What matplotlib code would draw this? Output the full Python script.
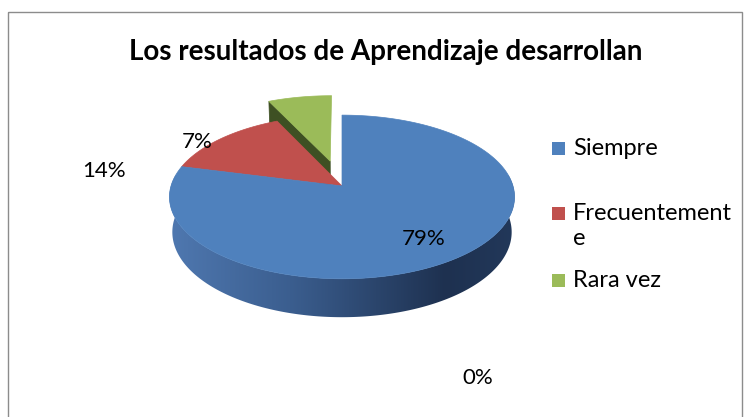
import numpy as np
import matplotlib
matplotlib.use("Agg")
import matplotlib.pyplot as plt
from matplotlib.patches import Polygon, Rectangle
from matplotlib.colors import LinearSegmentedColormap

title = "Los resultados de Aprendizaje desarrollan"
categories = ["Siempre", "Frecuentemente", "Rara vez"]
values = [79, 14, 7]
legend_labels = ["Siempre", "Frecuentement\ne", "Rara vez"]
pct_labels = ["79%", "14%", "7%", "0%"]
colors = ["#4f81bd", "#c0504d", "#9bbb59"]
green_side = "#3e5023"

W, H = 745, 417
fig = plt.figure(figsize=(W / 100, H / 100), dpi=100)
ax = fig.add_axes([0, 0, 1, 1])
ax.set_xlim(0, W)
ax.set_ylim(H, 0)
ax.axis("off")

FONT = "Lato"

# chart border
ax.add_patch(Rectangle((8, 12), 734, 410, fill=False, edgecolor="#8c8c8c", lw=1.0))

# 3D perspective pie geometry
cx, cy, S = 342, 186, 171
sin_a = 0.47
cos_a = np.sqrt(1 - sin_a ** 2)
f = 6.6
h = 0.235
explode = [0, 0, 0.33]


def proj(x, y, z):
    v = y * sin_a + z * cos_a
    w = y * cos_a - z * sin_a
    k = f / (f + w)
    return (cx + S * x * k, cy - S * v * k)


fracs = np.array(values, dtype=float) / sum(values)
slices = []
a0 = np.pi / 2
for fr in fracs:
    a1 = a0 - fr * 2 * np.pi
    slices.append((a1, a0))
    a0 = a1

offsets = []
for (a1, a0), e in zip(slices, explode):
    mid = (a0 + a1) / 2
    offsets.append((e * np.cos(mid), e * np.sin(mid)))


def rim(i, th, z):
    ox, oy = offsets[i]
    return proj(ox + np.cos(th), oy + np.sin(th), z)


def apex(i, z):
    ox, oy = offsets[i]
    return proj(ox, oy, z)


# front side of blue slice with horizontal gradient
ths = np.linspace(np.radians(172), np.radians(368), 400)
top = [rim(0, t, 0) for t in ths]
bot = [rim(0, t, -h) for t in ths[::-1]]
side = Polygon(top + bot, closed=True, facecolor="none", edgecolor="none")
ax.add_patch(side)
grad_cmap = LinearSegmentedColormap.from_list(
    "side", [(0, "#4f78b0"), (0.35, "#3b5e8f"), (0.8, "#1e3150"), (1.0, "#22385a")])
gx = np.linspace(0, 1, 256)[None, :]
xs = [p[0] for p in top]
im = ax.imshow(gx, cmap=grad_cmap, aspect="auto",
               extent=(min(xs), max(xs), 330, 150),
               interpolation="bilinear", zorder=1)
im.set_clip_path(side)
ax.set_xlim(0, W)
ax.set_ylim(H, 0)

# exploded slice radial face (visible left edge)
a1, a0 = slices[2]
face = [apex(2, 0), rim(2, a0, 0), rim(2, a0, -h), apex(2, -h)]
ax.add_patch(Polygon(face, closed=True, facecolor=green_side, edgecolor=green_side,
                     lw=0.5, zorder=2))


def wedge(i, a1, a0):
    th = np.linspace(a0, a1, 240)
    return [apex(i, 0)] + [rim(i, t, 0) for t in th]


# top faces: green first, then red and blue
for z, idx in enumerate([2, 1, 0]):
    a1, a0 = slices[idx]
    ax.add_patch(Polygon(wedge(idx, a1, a0), closed=True,
                         facecolor=colors[idx], edgecolor=colors[idx], lw=0.5,
                         zorder=3 + z))

# title
ax.text(386, 52, title, ha="center", va="center", fontsize=20,
        fontweight="bold", family=FONT, color="black", zorder=10)

# data labels
lab_pos = [(424, 239), (104, 171), (197, 142), (478, 378)]
for s, (x, y) in zip(pct_labels, lab_pos):
    ax.text(x, y, s, ha="center", va="center", fontsize=16, family=FONT,
            color="black", zorder=10)

# legend
leg_y = [148, 213, 280]
for lab, col, y in zip(legend_labels, colors, leg_y):
    ax.add_patch(Rectangle((552, y - 6.5), 13, 13, facecolor=col, edgecolor="none"))
    ax.text(573, y - 10, lab, ha="left", va="top", fontsize=17, family=FONT,
            color="black", linespacing=1.25, zorder=10)

fig.savefig("out.png", dpi=100)
